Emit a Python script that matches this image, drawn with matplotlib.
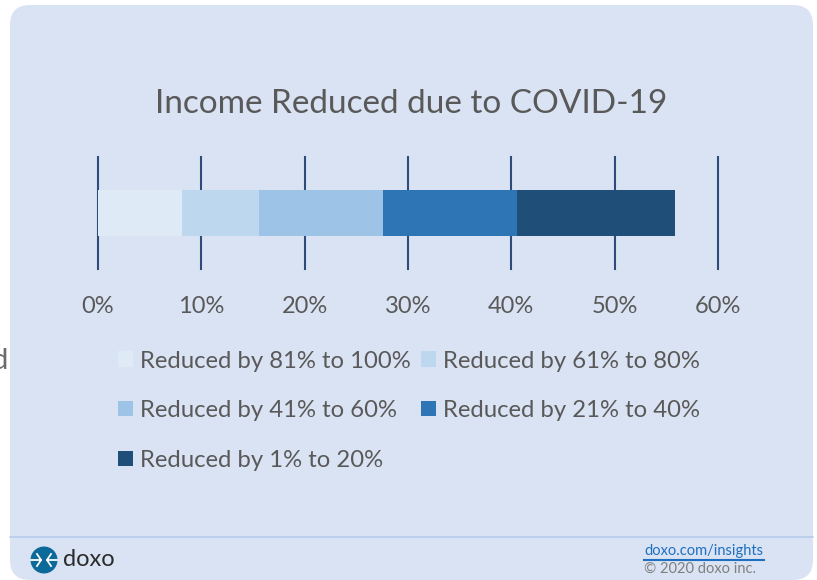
import matplotlib
matplotlib.use("Agg")
import matplotlib.pyplot as plt
from matplotlib.patches import FancyBboxPatch, Circle

plt.rcParams["font.family"] = ["Lato", "DejaVu Sans"]

# Data
categories = ["Reduced by 81% to 100%", "Reduced by 61% to 80%", "Reduced by 41% to 60%",
              "Reduced by 21% to 40%", "Reduced by 1% to 20%"]
values = [8.1, 7.5, 12.0, 12.9, 15.3]
colors = ["#DEEAF6", "#BDD7EE", "#9DC3E6", "#2E75B6", "#1F4E79"]
ticks = [0, 10, 20, 30, 40, 50, 60]
tickLabels = ["0%", "10%", "20%", "30%", "40%", "50%", "60%"]

W, H = 817, 580
textGrey = "#595959"

fig = plt.figure(figsize=(W/100, H/100), dpi=100, facecolor="white")

# Whole figure in pixel coords, for the card and footer
bg = fig.add_axes([0, 0, 1, 1])
bg.set_xlim(0, W)
bg.set_ylim(H, 0)
bg.axis("off")

card = FancyBboxPatch((10, 5), 803, 575, boxstyle="round,pad=0,rounding_size=20",
                      facecolor="#DAE3F3", edgecolor="none")
bg.add_patch(card)
bg.plot([10, 813], [537, 537], color="#B4CAEA", linewidth=1.1)

bg.text(8, 361, "d", ha="right", va="center", fontsize=21, color="#6B6B6B")

# Logo
bg.add_patch(Circle((44, 560), 13.5, facecolor="#0B6A99", edgecolor="none"))
bg.plot([31, 41], [560, 560], color="white", linewidth=1.3)
bg.plot([47, 57], [560, 560], color="white", linewidth=1.3)
bg.plot([37, 41, 37], [554, 560, 566], color="white", linewidth=1.3)
bg.plot([51, 47, 51], [554, 560, 566], color="white", linewidth=1.3)
bg.text(63, 559, "doxo", ha="left", va="center", fontsize=17, color="#2B2B2B")

# Footer links
bg.text(644, 551, "doxo.com/insights", ha="left", va="center", fontsize=10.5, color="#1F6FC0")
bg.plot([644, 764], [559.5, 559.5], color="#1F6FC0", linewidth=1.5)
bg.text(644, 569, "© 2020 doxo inc.", ha="left", va="center", fontsize=10.5, color="#7F7F7F")

# Chart
ax = fig.add_axes([98/W, 1 - 269/H, 620/W, 112/H])
ax.patch.set_alpha(0)
left = 0
bars = []
for i in range(len(values)):
    b = ax.barh(0, values[i], left=left, height=0.402, color=colors[i], label=categories[i], zorder=3)
    bars.append(b)
    left += values[i]

ax.set_xlim(0, 60)
ax.set_ylim(-0.5, 0.5)
ax.set_yticks([])
ax.set_xticks(ticks)
ax.set_xticklabels(tickLabels, fontsize=17, color=textGrey)
ax.tick_params(axis="x", length=0, pad=19.5)
ax.grid(axis="x", color="#2F4B7C", linewidth=1.5, zorder=1, clip_on=False)
ax.set_axisbelow(True)
for s in ax.spines.values():
    s.set_visible(False)

fig.text(411/W, 1 - 104/H, "Income Reduced due to COVID-19", ha="center", va="center",
         fontsize=24, color=textGrey)

# Legend fills by column, the picture reads by row
order = [0, 2, 4, 1, 3]
leg = fig.legend([bars[i] for i in order], [categories[i] for i in order], ncols=2,
                 loc="upper left", bbox_to_anchor=(118/W, 1 - 350.5/H), bbox_transform=fig.transFigure,
                 frameon=False, fontsize=17.2, labelcolor=textGrey, handlelength=0.62, handleheight=0.62,
                 handletextpad=0.3, columnspacing=0.42, labelspacing=1.2, borderpad=0, borderaxespad=0)

fig.savefig("out.png", dpi=100)
